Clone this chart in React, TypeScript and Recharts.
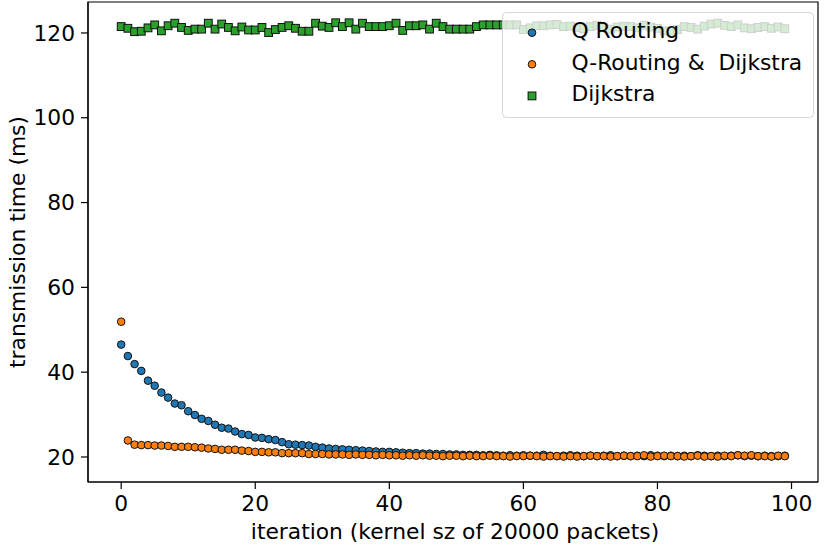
import { ScatterChart, Scatter, XAxis, YAxis, ReferenceArea, Legend } from 'recharts';

// transmission time (ms) per iteration
const qRouting = [
  46.5, 43.8, 41.9, 40.3, 38.0, 36.8, 35.2, 34.0, 32.6, 32.2,
  30.8, 29.9, 29.0, 28.5, 27.6, 26.9, 26.7, 26.0, 25.4, 25.2,
  24.6, 24.5, 24.2, 24.0, 23.5, 23.0, 22.9, 22.8, 22.7, 22.4,
  22.2, 22.0, 21.9, 21.8, 21.7, 21.6, 21.5, 21.4, 21.3, 21.2,
  21.2, 21.1, 21.0, 20.9, 20.9, 20.8, 20.8, 20.7, 20.7, 20.6,
  20.6, 20.5, 20.5, 20.5, 20.4, 20.5, 20.4, 20.3, 20.4, 20.3,
  20.4, 20.3, 20.3, 20.5, 20.3, 20.2, 20.3, 20.4, 20.3, 20.2,
  20.3, 20.2, 20.3, 20.4, 20.2, 20.3, 20.2, 20.3, 20.2, 20.4,
  20.3, 20.2, 20.3, 20.2, 20.3, 20.2, 20.4, 20.3, 20.2, 20.3,
  20.2, 20.3, 20.4, 20.2, 20.3, 20.2, 20.3, 20.2, 20.2, 20.3,
];

const qRoutingDijkstra = [
  51.9, 23.9, 22.9, 22.8, 22.8, 22.7, 22.7, 22.6, 22.4, 22.4,
  22.4, 22.3, 22.2, 22.0, 21.9, 21.7, 21.7, 21.7, 21.5, 21.4,
  21.2, 21.2, 21.1, 21.1, 20.9, 20.9, 20.9, 20.9, 20.7, 20.7,
  20.7, 20.6, 20.6, 20.6, 20.5, 20.6, 20.5, 20.5, 20.4, 20.5,
  20.4, 20.4, 20.3, 20.4, 20.3, 20.4, 20.3, 20.3, 20.2, 20.3,
  20.3, 20.2, 20.3, 20.2, 20.2, 20.3, 20.2, 20.2, 20.1, 20.2,
  20.2, 20.3, 20.2, 20.1, 20.2, 20.2, 20.1, 20.2, 20.1, 20.2,
  20.3, 20.2, 20.2, 20.1, 20.2, 20.3, 20.2, 20.2, 20.4, 20.1,
  20.2, 20.3, 20.2, 20.2, 20.1, 20.2, 20.3, 20.1, 20.2, 20.1,
  20.3, 20.2, 20.4, 20.3, 20.4, 20.2, 20.2, 20.1, 20.3, 20.2,
];

const dijkstra = [
  121.5, 121.1, 120.3, 120.4, 121.2, 121.9, 120.5, 121.7, 122.3, 121.3,
  120.6, 120.9, 120.9, 122.3, 120.9, 122.1, 121.3, 120.5, 121.4, 120.7,
  120.7, 121.3, 120.1, 120.8, 121.3, 121.7, 121.1, 120.4, 120.4, 122.3,
  121.6, 121.3, 122.4, 121.5, 122.4, 120.9, 122.3, 121.5, 121.5, 121.5,
  121.7, 122.3, 120.6, 121.7, 121.7, 121.9, 120.9, 122.3, 121.5, 120.9,
  120.9, 120.9, 120.9, 121.5, 121.9, 121.9, 121.9, 121.9, 121.9, 121.9,
  120.8, 121.2, 121.7, 121.7, 121.9, 122.0, 121.5, 121.6, 121.3, 121.0,
  121.5, 121.8, 121.2, 120.9, 121.4, 121.6, 121.5, 121.2, 121.8, 121.4,
  121.1, 120.5, 120.2, 120.8, 121.5, 121.3, 120.9, 121.6, 122.1, 122.3,
  121.8, 121.5, 121.9, 121.2, 121.0, 121.3, 121.5, 121.1, 121.4, 121.0,
];

const xTicks = [0, 20, 40, 60, 80, 100];
const yTicks = [20, 40, 60, 80, 100, 120];

const seriesNames = ['Q Routing', 'Q-Routing &  Dijkstra', 'Dijkstra'];
const seriesColors = ['#1f77b4', '#ff7f0e', '#2ca02c'];

const FONT = 'DejaVu Sans';
const FONT_SIZE = 21.8;
const xDomain = [-4.95, 103.95];
const yDomain = [14.1, 127.3];

const toPoints = (values: number[]) => values.map((y, x) => ({ x, y }));

const dot = (color: string) => (props: any) => (
  <circle cx={props.cx} cy={props.cy} r={3.8} fill={color} stroke="#111" strokeWidth={1} />
);

const square = (color: string) => (props: any) => (
  <rect x={props.cx - 3.9} y={props.cy - 3.9} width={7.8} height={7.8} fill={color} stroke="#111" strokeWidth={1} />
);

function LegendBox() {
  return (
    <svg width={312} height={106} style={{ display: 'block' }}>
      <rect x={0.5} y={0.5} width={311} height={105} rx={4} fill="rgba(255,255,255,0.8)" stroke="rgba(204,204,204,0.8)" />
      {seriesNames.map((name, i) => {
        const cy = 20.7 + i * 31.6;
        return (
          <g key={name}>
            {i < 2 ? (
              <circle cx={30} cy={cy} r={3.8} fill={seriesColors[i]} stroke="#111" strokeWidth={1} />
            ) : (
              <rect x={26.1} y={cy - 3.9} width={7.8} height={7.8} fill={seriesColors[i]} stroke="#111" strokeWidth={1} />
            )}
            <text x={69.5} y={26.3 + i * 31.5} fontFamily={FONT} fontSize={FONT_SIZE} fill="#000" style={{ whiteSpace: 'pre' }}>
              {name}
            </text>
          </g>
        );
      })}
    </svg>
  );
}

export default function App() {
  const tickStyle = { fill: '#000', fontSize: FONT_SIZE, fontFamily: FONT };
  return (
    <div style={{ position: 'absolute', left: 0, top: 0, background: '#fff' }}>
      <ScatterChart width={826} height={547} margin={{ top: 2, right: 8, bottom: 0, left: 0 }}>
        <XAxis
          type="number"
          dataKey="x"
          domain={xDomain}
          ticks={xTicks}
          allowDataOverflow
          height={65}
          stroke="#000"
          strokeWidth={1.2}
          tickSize={7}
          tickMargin={7}
          tick={tickStyle}
          label={{
            content: () => (
              <text x={455} y={539} textAnchor="middle" fontFamily={FONT} fontSize={FONT_SIZE} fill="#000">
                iteration (kernel sz of 20000 packets)
              </text>
            ),
          }}
        />
        <YAxis
          type="number"
          dataKey="y"
          domain={yDomain}
          ticks={yTicks}
          allowDataOverflow
          width={88}
          stroke="#000"
          strokeWidth={1.2}
          tickSize={7}
          tickMargin={6}
          tick={tickStyle}
          label={{
            content: () => (
              <text x={25} y={242} transform="rotate(-90, 25, 242)" textAnchor="middle" fontFamily={FONT} fontSize={FONT_SIZE} fill="#000">
                transmission time (ms)
              </text>
            ),
          }}
        />
        <ReferenceArea x1={xDomain[0]} x2={xDomain[1]} y1={yDomain[0]} y2={yDomain[1]} fill="none" stroke="#000" strokeWidth={1.2} />
        <Scatter name={seriesNames[0]} data={toPoints(qRouting)} shape={dot(seriesColors[0])} isAnimationActive={false} />
        <Scatter name={seriesNames[1]} data={toPoints(qRoutingDijkstra)} shape={dot(seriesColors[1])} isAnimationActive={false} />
        <Scatter name={seriesNames[2]} data={toPoints(dijkstra)} shape={square(seriesColors[2])} isAnimationActive={false} />
        <Legend
          layout="horizontal"
          align="center"
          verticalAlign="middle"
          content={() => <LegendBox />}
          wrapperStyle={{ left: 502, top: 12, width: 312, height: 106, margin: 0 }}
        />
      </ScatterChart>
    </div>
  );
}
